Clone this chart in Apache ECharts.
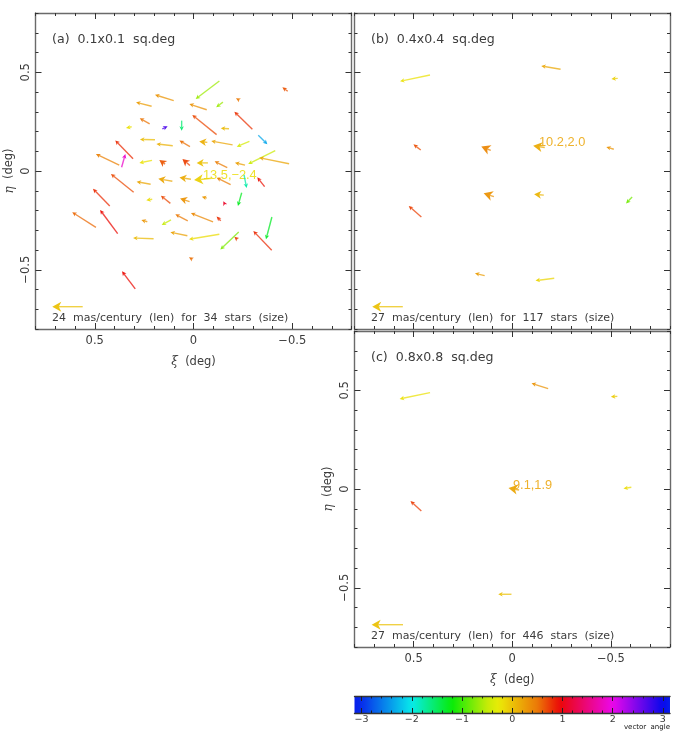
<!DOCTYPE html>
<html><head><meta charset="utf-8">
<style>html,body{margin:0;padding:0;background:#fff}#c{width:676px;height:738px}</style>
<script src="https://cdn.jsdelivr.net/npm/echarts@6/dist/echarts.min.js"></script>
</head><body><div id="c"></div>
<script>
// Each vector: [tail xi, tail eta, head xi, head eta, star-count class]
const vectorsA = [
[.100,.356,.195,.386,1],[.212,.328,.291,.348,1],[.222,.239,.272,.267,1],[.313,.224,.342,.218,1],
[.158,.213,.131,.226,1],[.060,.255,.060,.204,1],[.195,.158,.271,.160,1],[.105,.128,.188,.137,1],
[.018,.123,.071,.154,1],[.306,.062,.396,.155,1],[.376,.030,.494,.086,1],[.364,.019,.345,.086,1],
[.210,.054,.274,.041,1],[.144,.035,.173,.056,2],[.018,.028,.056,.061,2],[.303,-.108,.418,-.015,1],
[.217,-.067,.288,-.054,1],[.107,-.052,.178,-.039,2],[.013,-.042,.071,-.033,2],[-.131,.456,-.011,.365,1],
[-.067,.310,.021,.339,1],[-.149,.349,-.115,.323,1],[-.232,.359,-.215,.368,1],[-.477,.404,-.450,.424,1],
[-.117,.184,.006,.284,1],[-.298,.211,-.207,.300,1],[-.180,.214,-.138,.216,1],[-.328,.181,-.374,.135,1],
[-.070,.145,-.029,.150,2],[-.198,.132,-.090,.152,1],[-.283,.150,-.219,.123,1],[-.414,.103,-.277,.035,1],
[-.484,.037,-.333,.067,1],[-.073,.041,-.016,.041,2],[-.171,.017,-.107,.049,1],[-.261,.030,-.210,.042,1],
[-.092,-.037,-.003,-.046,3],[-.188,-.069,-.117,-.034,1],[-.256,-.020,-.269,-.086,1],[-.360,-.079,-.323,-.032,1],
[.424,-.177,.509,-.090,1],[.117,-.164,.165,-.125,1],[.209,-.143,.239,-.148,1],[.020,-.155,.068,-.139,2],
[.494,-.285,.614,-.209,1],[.384,-.317,.473,-.197,1],[.234,-.257,.264,-.248,1],[.114,-.248,.161,-.273,1],
[.029,-.252,.092,-.219,1],[.202,-.343,.306,-.339,1],[.031,-.328,.117,-.310,1],[.295,-.597,.362,-.508,1],
[-.067,-.137,-.042,-.130,1],[-.099,-.258,.013,-.213,1],[-.138,-.252,-.117,-.231,1],[-.159,-.169,-.151,-.153,1],
[-.244,-.110,-.225,-.177,1],[-.397,-.233,-.367,-.346,1],[-.131,-.320,.023,-.346,1],[-.229,-.309,-.136,-.398,1],
[-.222,-.346,-.207,-.333,1],[-.396,-.401,-.303,-.304,1],[.006,-.447,.023,-.437,1]
];
const vectorsB = [
[.417,.486,.569,.454,1],[-.245,.515,-.147,.532,1],[-.535,.469,-.503,.466,1],[.464,.106,.501,.135,1],
[.109,.104,.157,.124,3],[-.165,.119,-.106,.128,3],[-.515,.110,-.477,.122,1],[.461,-.233,.525,-.177,1],
[.093,-.130,.145,-.113,3],[-.160,-.122,-.111,-.118,2],[-.608,-.132,-.577,-.164,1],[.140,-.530,.189,-.518,1],
[-.213,-.543,-.118,-.555,1]
];
const vectorsC = [
[.417,.488,.571,.456,1],[-.182,.508,-.098,.535,1],[-.533,.469,-.500,.467,1],[-.604,.009,-.564,.002,1],
[-.035,-.005,.019,.005,3],[.461,-.111,.516,-.061,1],[.004,-.533,.071,-.533,1]
];
const legendVectorA = [[.561,-.687,.715,-.687,3]];
const legendVectorB = [[.555,-.687,.710,-.687,3]];
const legendVectorC = [[.554,-.687,.713,-.687,3]];
const panelTitles = ['(a)  0.1x0.1  sq.deg','(b)  0.4x0.4  sq.deg','(c)  0.8x0.8  sq.deg'];
const legendTexts = ['24  mas/century  (len)  for  34  stars  (size)','27  mas/century  (len)  for  117  stars  (size)','27  mas/century  (len)  for  446  stars  (size)'];
const meanVectors = [[13.5,-2.4],[10.2,2.0],[9.1,1.9]];
const axisMajor = [-0.5,0,0.5];
const axisMinor = [-0.8,-0.7,-0.6,-0.4,-0.3,-0.2,-0.1,0.1,0.2,0.3,0.4,0.6,0.7,0.8];
const barMajor = [-3,-2,-1,0,1,2,3];
const barMinor = [-2.8,-2.6,-2.4,-2.2,-1.8,-1.6,-1.4,-1.2,-.8,-.6,-.4,-.2,.2,.4,.6,.8,1.2,1.4,1.6,1.8,2.2,2.4,2.6,2.8];

const FONT='"DejaVu Sans"', INK='#3c3c3c', FRAME='#6a6a6a';
function hsv(h,s,v){h=((h%360)+360)%360;const f=n=>{const k=(n+h/60)%6;return v-v*s*Math.max(0,Math.min(k,4-k,1))};
  return 'rgb('+[f(5),f(3),f(1)].map(x=>Math.round(x*255)).join(',')+')';}
const HUE_KEYS=[[-3.2,235],[-3,230],[-2,180],[-1,105],[-.5,70],[0,49],[.5,30],[1,-3],[2,-60],[3,-120],[3.2,-128]];
function angleColor(a){
  for(let i=1;i<HUE_KEYS.length;i++){const p=HUE_KEYS[i-1],q=HUE_KEYS[i];
    if(a<=q[0]){return hsv(p[1]+(q[1]-p[1])*(a-p[0])/(q[0]-p[0]),.97,.92);}}
  return hsv(232,.97,.92);
}
const HEAD={1:[4.5,2.2],2:[7,3.8],3:[9,5]};
const fmt=v=>String(v).replace('-','\u2212');
const fmt1=v=>v.toFixed(1).replace('-','\u2212');

const S=316, panels=[{l:35.5,t:13,w:316,xl:true,yl:true},{l:354.5,t:13,w:315.5,xl:false,yl:false},{l:354.5,t:331,w:315.5,xl:true,yl:true}];
const grid=[],xAxis=[],yAxis=[],series=[];
const RICH={g:{fontFamily:'"DejaVu Serif"',fontStyle:'italic',fontSize:12,color:INK},t:{fontFamily:FONT,fontSize:11.5,color:INK}};
function axes(kind,idx,vals,len,showLab,line,name){
  const base={type:'value',min:-0.8,max:0.8,gridIndex:idx,splitLine:{show:false},
    axisLine:{show:line,onZero:false,lineStyle:{color:FRAME,width:1.4}},
    axisTick:{show:true,inside:true,length:len,customValues:vals,lineStyle:{color:'#333',width:1}},
    axisLabel:{show:false}};
  if(kind==='x'){
    xAxis.push(Object.assign({},base,{position:'bottom',inverse:true,
      axisLabel:{show:showLab,customValues:vals,formatter:fmt,color:INK,fontFamily:FONT,fontSize:11.5,margin:6},
      name:showLab?name:'',nameLocation:'middle',nameGap:27,nameTextStyle:{rich:RICH}}));
    xAxis.push(Object.assign({},base,{position:'top',inverse:true}));
  }else{
    yAxis.push(Object.assign({},base,{position:'left',
      axisLabel:{show:showLab,customValues:vals,rotate:90,formatter:fmt,color:INK,fontFamily:FONT,fontSize:11.5,margin:3},
      name:showLab?name:'',nameLocation:'middle',nameGap:20,nameRotate:90,nameTextStyle:{rich:RICH}}));
    yAxis.push(Object.assign({},base,{position:'right'}));
  }
}
function arrowRender(params,api){
  const t=api.coord([api.value(0),api.value(1)]),h=api.coord([api.value(2),api.value(3)]);
  const [L,W]=HEAD[api.value(4)]||HEAD[1];
  const dx=t[0]-h[0],dy=t[1]-h[1],n=Math.hypot(dx,dy)||1,ux=dx/n,uy=dy/n;
  const col=angleColor(Math.atan2(api.value(3)-api.value(1),api.value(2)-api.value(0)));
  const bx=h[0]+ux*L,by=h[1]+uy*L,nx=h[0]+ux*L*0.72,ny=h[1]+uy*L*0.72;
  return {type:'group',children:[
    {type:'line',shape:{x1:t[0],y1:t[1],x2:nx,y2:ny},style:{stroke:col,lineWidth:1.4,opacity:.75}},
    {type:'polygon',shape:{points:[h,[bx-uy*W,by+ux*W],[nx,ny],[bx+uy*W,by-ux*W]]},style:{fill:col,opacity:.95}}
  ]};
}
const vecs=[vectorsA,vectorsB,vectorsC],legs=[legendVectorA,legendVectorB,legendVectorC];
const graphic=[];
panels.forEach((p,i)=>{
  const g={left:p.l,top:p.t,width:p.w,height:S,containLabel:false};
  grid.push(g,Object.assign({},g));
  const a=i*2,b=i*2+1;
  const xn='{g|\u03BE}{t|  (deg)}',yn='{g|\u03B7}{t|  (deg)}';
  axes('x',a,axisMajor,6,p.xl,true,xn);axes('y',a,axisMajor,6,p.yl,true,yn);
  axes('x',b,axisMinor,3,false,false);axes('y',b,axisMinor,3,false,false);
  const xi=xAxis.length-4,yi=yAxis.length-4;
  series.push({type:'custom',xAxisIndex:xi,yAxisIndex:yi,coordinateSystem:'cartesian2d',clip:false,silent:true,
    renderItem:arrowRender,data:vecs[i].concat(legs[i]),encode:{x:[0,2],y:[1,3]},animation:false});
  graphic.push({type:'text',left:p.l+16.5,top:p.t+20.5,style:{text:panelTitles[i],font:'12.6px '+FONT,fill:INK}});
  graphic.push({type:'text',left:p.l+16.5,top:p.t+300,style:{text:legendTexts[i],font:'11px '+FONT,fill:INK}});
});
const meanPos=[[203,169],[539,136],[513,478.5]];
const MEANFONT='12.8px "Liberation Sans"';
meanVectors.forEach((m,i)=>{
  graphic.push({type:'text',left:meanPos[i][0],top:meanPos[i][1],style:{text:fmt1(m[0])+','+fmt1(m[1]),font:MEANFONT,fill:angleColor(Math.atan2(m[1],m[0])),opacity:.85}});
});
// colour bar
const bar={left:354.5,top:696,width:315.5,height:17};
const bg=grid.length;
grid.push(bar,Object.assign({},bar));
function barAxes(idx,vals,len,lab,line){
  const base={type:'value',min:-Math.PI,max:Math.PI,gridIndex:idx,splitLine:{show:false},z:5,
    axisLine:{show:line,onZero:false,lineStyle:{color:'#333',width:1.4}},
    axisTick:{show:true,inside:true,length:len,customValues:vals,lineStyle:{color:'#222',width:1}},axisLabel:{show:false}};
  xAxis.push(Object.assign({},base,{position:'bottom',
    axisLabel:{show:lab,customValues:vals,formatter:fmt,color:INK,fontFamily:FONT,fontSize:9.5,margin:2}}));
  xAxis.push(Object.assign({},base,{position:'top'}));
  yAxis.push({type:'value',min:0,max:1,gridIndex:idx,show:false});
}
barAxes(bg,barMajor,5,true,true);barAxes(bg+1,barMinor,2.5,false,false);
const barX=xAxis.length-4,barY=yAxis.length-2;
series.push({type:'custom',xAxisIndex:barX,yAxisIndex:barY,silent:true,animation:false,z:1,
  data:[[-Math.PI,0,Math.PI,1]],encode:{x:[0,2],y:[1,3]},
  renderItem(params,api){
    const a=api.coord([api.value(0),api.value(3)]),b=api.coord([api.value(2),api.value(1)]);
    const stops=[];for(let k=0;k<=64;k++){const v=-Math.PI+2*Math.PI*k/64;stops.push({offset:k/64,color:angleColor(v)});}
    return {type:'rect',shape:{x:a[0],y:a[1],width:b[0]-a[0],height:b[1]-a[1]},
      style:{fill:new echarts.graphic.LinearGradient(0,0,1,0,stops)}};
  }});
graphic.push({type:'text',right:6,top:724,style:{text:'vector  angle',font:'7px '+FONT,fill:'#111'}});

const chart=echarts.init(document.getElementById('c'),null,{renderer:'canvas'});
chart.setOption({animation:false,backgroundColor:'#fff',grid,xAxis,yAxis,series,graphic});
</script></body></html>
